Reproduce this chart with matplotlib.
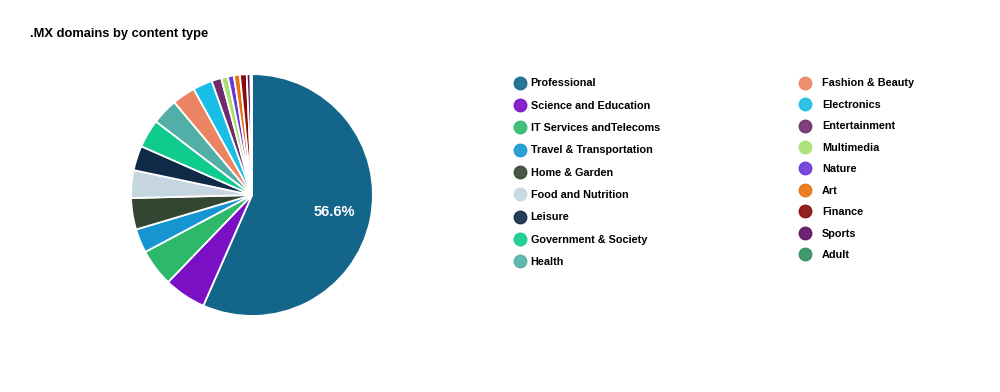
import matplotlib.pyplot as plt
from matplotlib.lines import Line2D

plt.rcParams['font.family'] = ['Liberation Sans', 'DejaVu Sans']

categories = ['Professional', 'Science and Education', 'IT Services andTelecoms',
              'Travel & Transportation', 'Home & Garden', 'Food and Nutrition',
              'Leisure', 'Government & Society', 'Health', 'Fashion & Beauty',
              'Electronics', 'Entertainment', 'Multimedia', 'Nature', 'Art',
              'Finance', 'Sports', 'Adult']
shares = [56.6, 5.6, 5.0, 3.2, 4.2, 3.7, 3.3, 3.8, 3.5, 3.1,
          2.6, 1.3, 0.9, 0.8, 0.8, 0.9, 0.5, 0.2]
colors = ['#13668A', '#7B0FC4', '#2DB86A', '#1596D1', '#334632', '#C5D6E1',
          '#0E2A47', '#0FCB8D', '#52AFA8', '#EB8462', '#18BEE5', '#6E2C6E',
          '#A8E06E', '#6A35D8', '#E8720E', '#8A0A0A', '#5E0E62', '#2E8E5E']

fig = plt.figure(figsize=(10, 3.92), dpi=100)
fig.text(0.030, 0.913, '.MX domains by content type', fontsize=9.3,
         fontweight='bold', va='center', ha='left')

# pie
ax = fig.add_axes([0.131, 0.194, 0.242, 0.617])
wedges, texts, autotexts = ax.pie(
    shares, colors=colors, startangle=90, counterclock=False,
    autopct=lambda p: f'{p:.1f}%' if p > 10 else '', pctdistance=0.70,
    wedgeprops=dict(edgecolor='white', linewidth=1.3),
    textprops=dict(color='white', fontsize=10.5, fontweight='bold'))
ax.set_xlim(-1.0, 1.0)
ax.set_ylim(-1.0, 1.0)
ax.set_aspect('equal')

# legend, two columns
def handles(idx):
    return [Line2D([], [], marker='o', linestyle='', markersize=9,
                   markerfacecolor=colors[i], markeredgecolor=colors[i],
                   alpha=0.9) for i in idx]

left = list(range(9))
right = list(range(9, 18))
fig.legend(handles(left), [categories[i] for i in left],
           loc='upper left', bbox_to_anchor=(0.509, 0.814),
           frameon=False, labelspacing=1.14,
           handlelength=1.0, handletextpad=0.5, borderpad=0,
           prop=dict(weight='bold', size=7.8))
fig.legend(handles(right), [categories[i] for i in right],
           loc='upper left', bbox_to_anchor=(0.794, 0.814),
           frameon=False, labelspacing=1.06,
           handlelength=1.0, handletextpad=1.07, borderpad=0,
           prop=dict(weight='bold', size=7.8))

fig.savefig('out.png', dpi=100, facecolor='white')
